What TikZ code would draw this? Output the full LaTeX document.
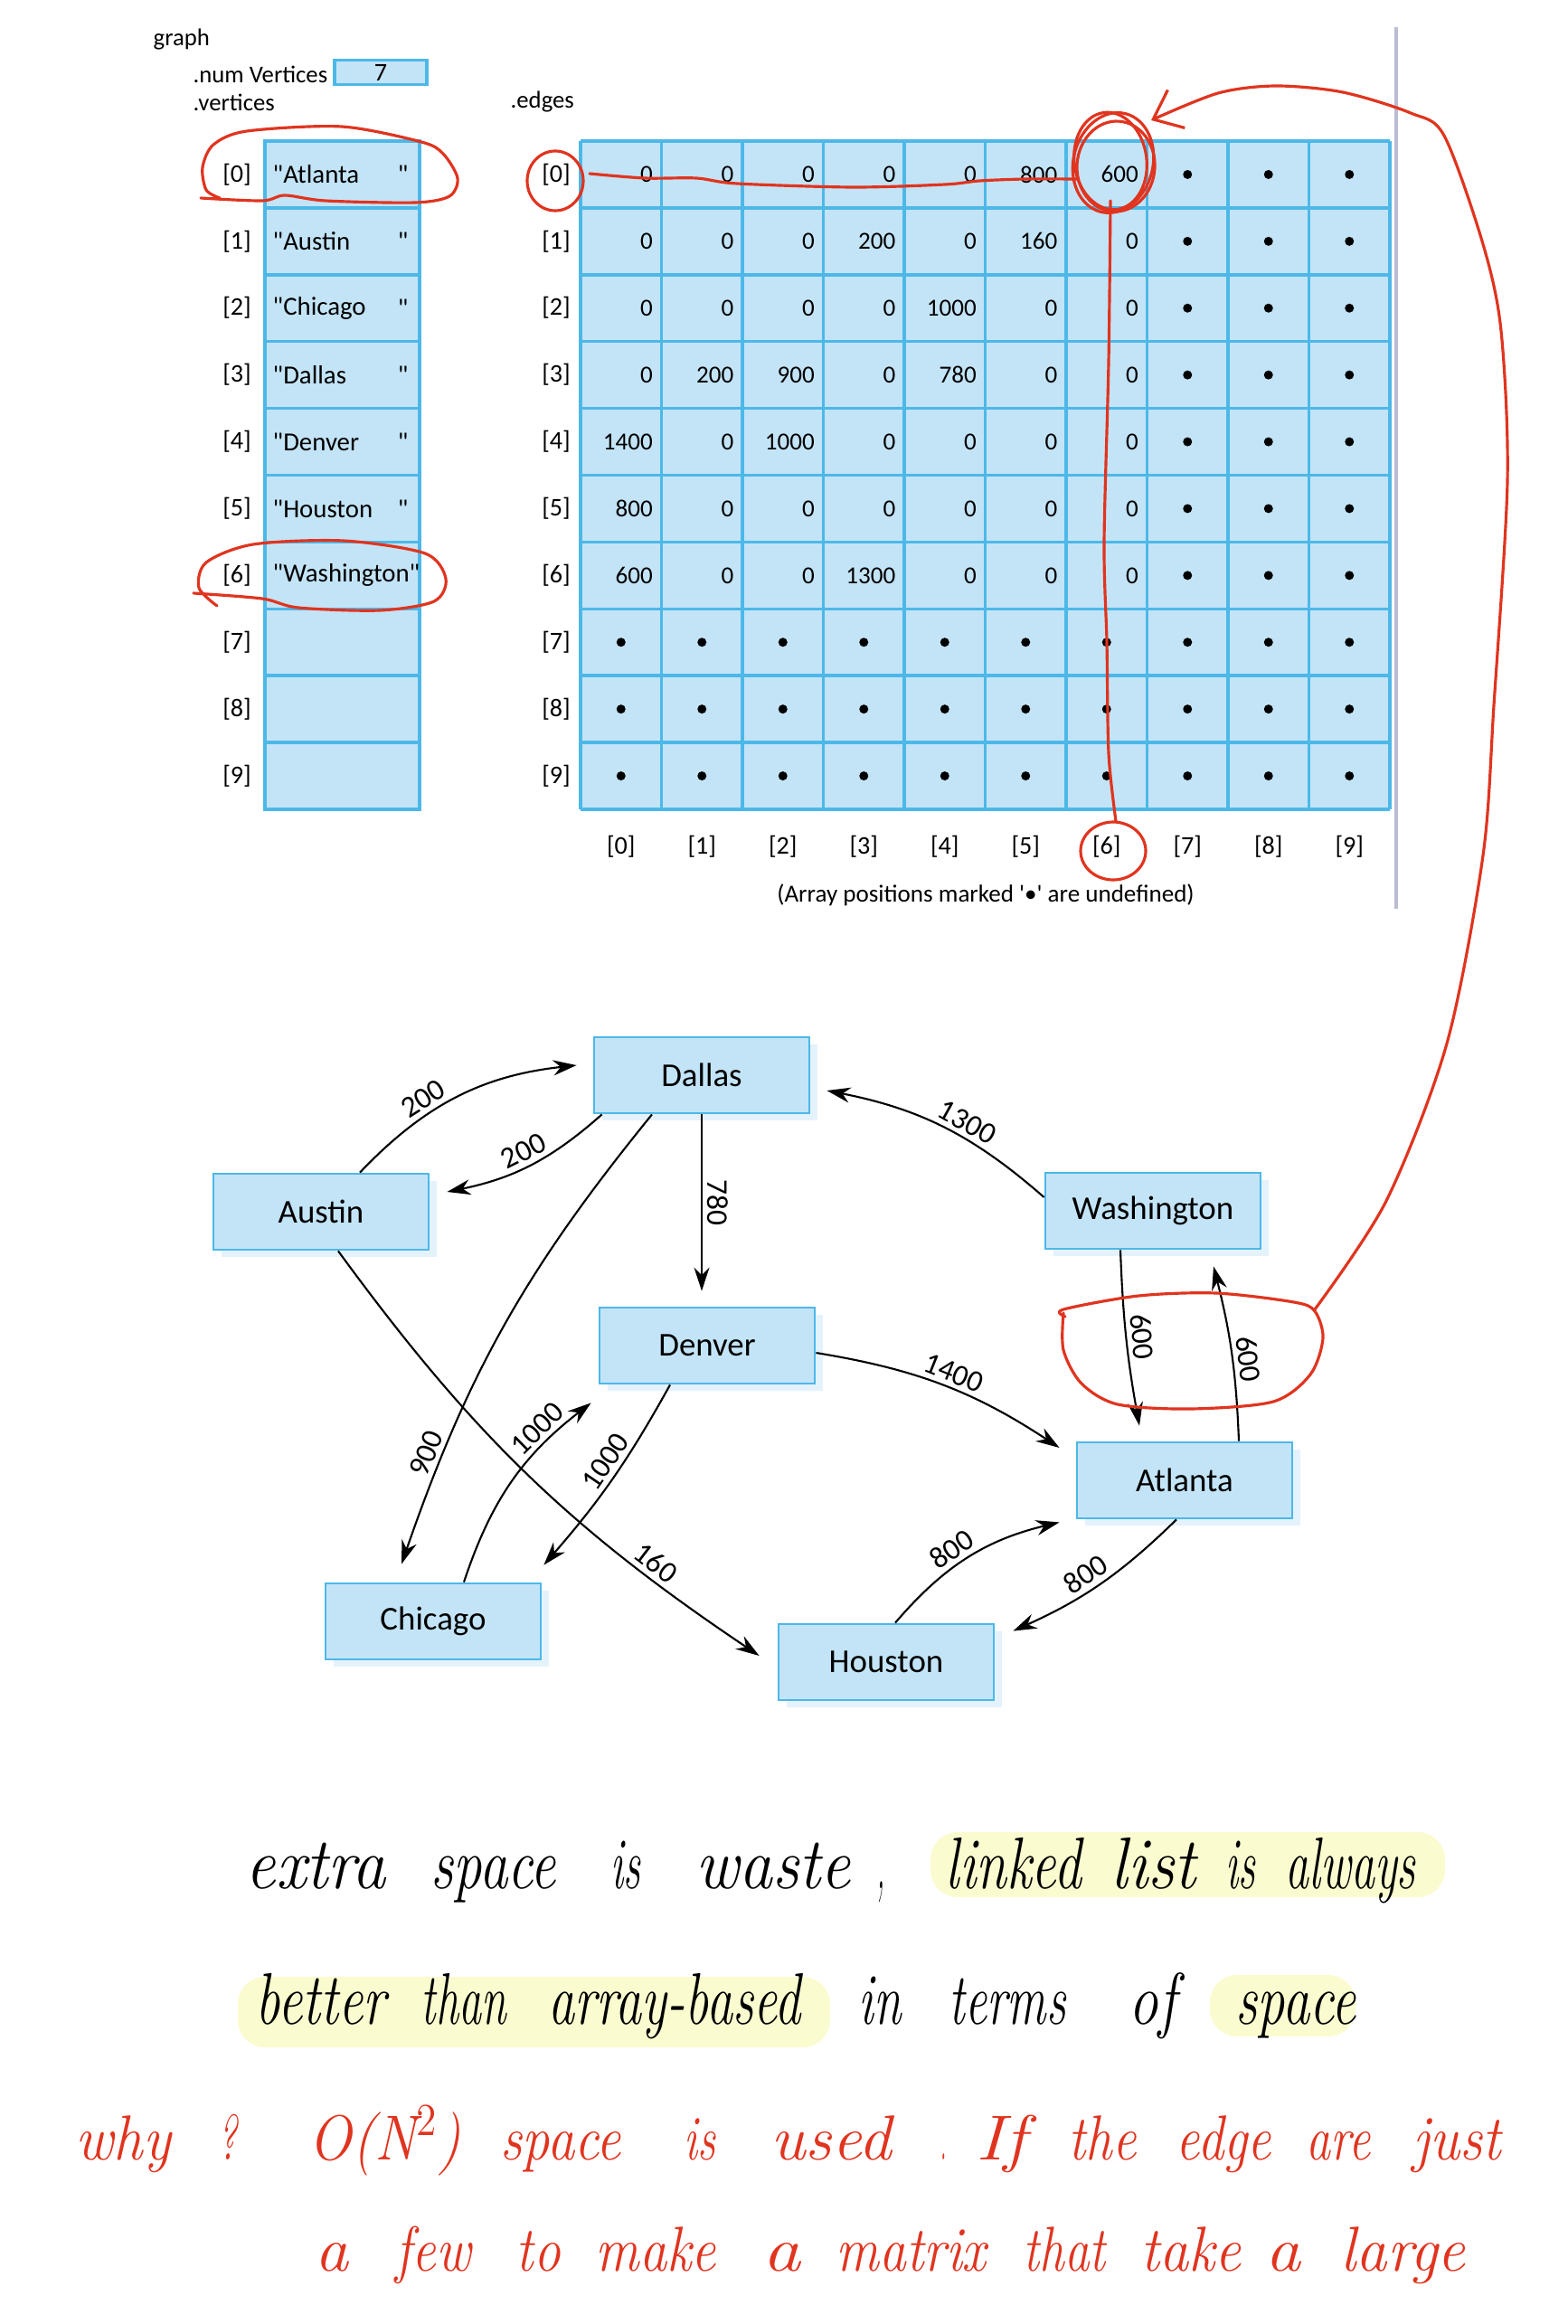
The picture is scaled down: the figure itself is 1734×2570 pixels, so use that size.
\documentclass[tikz,border=0pt]{standalone}
\usepackage{fontspec}
\newfontfamily\figfont{Carlito}
\usepackage{graphicx}
\usepackage{tikz}
\usetikzlibrary{arrows.meta,positioning,calc,shadows}
\definecolor{cellBlue}{HTML}{C3E4F7}
\definecolor{lineBlue}{HTML}{4DB8E8}
\definecolor{shadeBlue}{HTML}{E4F2FB}
\definecolor{penRed}{HTML}{E0341F}
\definecolor{markYellow}{HTML}{FBFBD0}
\definecolor{rulerGray}{HTML}{BCBCD4}

\begin{document}
\begin{tikzpicture}[x=0.1mm, y=-0.1mm,
  city/.style={draw=lineBlue, fill=cellBlue, line width=0.8pt,
               minimum width=23.8mm, minimum height=8.4mm,
               font=\figfont\fontsize{10.5}{12}\selectfont,
               drop shadow={fill=shadeBlue, opacity=1,
                            shadow xshift=0.9mm, shadow yshift=-0.8mm}},
  road/.style={-{Stealth[length=2.6mm, width=1.7mm]}, line width=0.6pt},
  roadback/.style={{Stealth[length=2.6mm, width=1.7mm]}-, line width=0.6pt},
  wt/.style={font=\figfont\fontsize{9.5}{11}\selectfont, sloped, above,
             inner sep=1.5pt},
  cellline/.style={lineBlue, line width=1pt},
  num/.style={font=\figfont\fontsize{7.7}{9}\selectfont, inner sep=0pt},
  idx/.style={font=\figfont\fontsize{8}{9}\selectfont, inner sep=0pt},
  vtx/.style={font=\figfont\fontsize{8.2}{10}\selectfont, inner sep=0pt},
  head/.style={font=\figfont\fontsize{7.6}{9}\selectfont, inner sep=0pt, anchor=west},
  redpen/.style={penRed, line width=0.9pt, line cap=round, line join=round},
  handtext/.style={inner sep=0pt, anchor=base west},
  hilite/.style={markYellow, rounded corners=3mm}
]
\fill[white] (0,0) rectangle (1734,2570);
\useasboundingbox (0,0) rectangle (1734,2570);

\node[head] (graph) at (169,44)  {graph};
\node[head] (numv)  at (213,82)  {.num Vertices};
\node[head] (verts) at (213,113) {.vertices};
\node[head] (edges) at (564,113) {.edges};
\node[draw=lineBlue, fill=cellBlue, line width=1pt, minimum width=10.2mm,
      minimum height=2.7mm, inner sep=0pt, font=\figfont\fontsize{8}{9}\selectfont]
      (count) at (421,80) {7};

\draw[rulerGray, line width=1.2pt] (1544,30) -- (1544,1005);

\fill[cellBlue] (293,156) rectangle (464,895);
\draw[cellline] (293,156) rectangle (464,895);
\foreach \r in {1,...,9}
  \draw[cellline] (293,{156+73.9*\r}) -- (464,{156+73.9*\r});
\foreach \r in {0,...,9}
  \node[idx] (vi\r) at (262,{156+73.9*(\r+0.5)}) {[\r]};
\foreach \r/\s in {0/Atlanta,1/Austin,2/Chicago,3/Dallas,4/Denver,5/Houston}{
  \node[vtx, anchor=west] (v\r) at (301,{156+73.9*(\r+0.5)}) {"\s};
  \node[vtx, anchor=east] (q\r) at (452,{156+73.9*(\r+0.5)}) {"};
}
\node[vtx, anchor=west] (v6) at (301,{156+73.9*6.5}) {"Washington"};

\fill[cellBlue] (642,156) rectangle (1537,895);
\foreach \c in {0,...,10}
  \draw[cellline] ({642+89.5*\c},156) -- ({642+89.5*\c},895);
\foreach \r in {0,...,10}
  \draw[cellline] (642,{156+73.9*\r}) -- (1537,{156+73.9*\r});
\foreach \r in {0,...,9}{
  \node[idx] (ri\r) at (615,{156+73.9*(\r+0.5)}) {[\r]};
  \node[idx] (ci\r) at ({642+89.5*(\r+0.5)},936) {[\r]};
}
\foreach \r/\row in {0/{0,0,0,0,0,800,600},1/{0,0,0,200,0,160,0},
                     2/{0,0,0,0,1000,0,0},3/{0,200,900,0,780,0,0},
                     4/{1400,0,1000,0,0,0,0},5/{800,0,0,0,0,0,0},
                     6/{600,0,0,1300,0,0,0}}
  \foreach \v [count=\c from 0] in \row
    \node[num, anchor=east] (e\r\c) at ({642+89.5*(\c+1)-9},{156+73.9*(\r+0.5)}) {\v};
\foreach \r in {0,...,6}
  \foreach \c in {7,8,9}
    \fill ({642+89.5*(\c+0.5)},{156+73.9*(\r+0.5)}) circle (0.5mm);
\foreach \r in {7,8,9}
  \foreach \c in {0,...,9}
    \fill ({642+89.5*(\c+0.5)},{156+73.9*(\r+0.5)}) circle (0.5mm);
\node[idx, font=\figfont\fontsize{7.7}{9}\selectfont] (note) at (1090,990)
  {(Array positions marked \textquotesingle•\textquotesingle\ are undefined)};

\node[city] (dal) at (776,1189)  {Dallas};
\node[city] (aus) at (355,1340)  {Austin};
\node[city] (was) at (1275,1339) {Washington};
\node[city] (den) at (782,1488)  {Denver};
\node[city] (atl) at (1310,1637) {Atlanta};
\node[city] (chi) at (479,1793)  {Chicago};
\node[city] (hou) at (980,1838)  {Houston};

\draw[road] ($(aus.north)+(43,0)$) to[bend left=20]
  node[wt, pos=.37] (w1) {200} ($(dal.west)+(-18,-11)$);
\draw[road] ($(dal.south west)+(10,0)$) to[bend left=15]
  node[wt, pos=.5] (w2) {200} ($(aus.east)+(19,-22)$);
\draw[road] ($(dal.south)+(-55,0)$) to[bend right=10]
  node[wt, pos=.8] (w3) {900} ($(chi.north)+(-35,-20)$);
\draw[road] (dal.south) -- node[wt, pos=.5] (w4) {780} ($(den.north)+(-6,-17)$);
\draw[road] ($(was.west)+(0,-15)$) to[bend right=15]
  node[wt, pos=.42] (w5) {1300} ($(dal.east)+(18,17)$);
\draw[road] ($(aus.south)+(19,0)$) to[bend right=10]
  node[wt, pos=.78] (w6) {160} ($(hou.west)+(-20,-7)$);
\draw[road] ($(chi.north)+(34,0)$) to[bend left=17]
  node[wt, pos=.76] (w7) {1000} ($(den.south west)+(-8,20)$);
\draw[road] ($(den.south)+(-41,0)$) to[bend left=6]
  node[wt, pos=.45] (w8) {1000} ($(chi.north east)+(2,-19)$);
\draw[road] ($(den.east)+(0,8)$) to[bend left=12]
  node[wt, pos=.52] (w9) {1400} ($(atl.west)+(-18,-36)$);
\draw[road] ($(was.south)+(-36,0)$) to[bend right=4]
  node[wt, pos=.5] (w10) {600} ($(atl.north)+(-50,-17)$);
\draw[roadback] ($(was.south)+(67,18)$) to[bend left=6]
  node[wt, pos=.55] (w11) {600} ($(atl.north)+(60,0)$);
\draw[road] ($(hou.north)+(10,0)$) to[bend left=18]
  node[wt, pos=.45] (w12) {800} ($(atl.south west)+(-18,3)$);
\draw[road] ($(atl.south)+(-9,0)$) to[bend left=10]
  node[wt, pos=.54] (w13) {800} ($(hou.north east)+(20,9)$);

\draw[redpen] plot[smooth] coordinates {(222,219) (290,222) (315,216) (360,222)
  (459,224) (497,217) (506,197) (490,170) (466,157) (378,140) (273,145)
  (236,160) (224,185) (228,210) (243,219)};
\draw[redpen] plot[smooth] coordinates {(214,656) (290,662) (330,672) (420,675)
  (480,665) (493,640) (470,612) (380,598) (280,602) (228,622) (220,650) (240,670)};
\draw[redpen] (614,200) ellipse [x radius=3.1mm, y radius=3.3mm];
\draw[redpen] plot[smooth] coordinates {(652,192) (713,197) (770,197) (815,203)
  (943,207) (1045,204) (1083,200) (1134,198) (1191,198)};
\draw[redpen, rotate around={-14:(1231,180)}] (1231,180) ellipse [x radius=4.4mm, y radius=5.6mm];
\draw[redpen, rotate around={8:(1228,178)}] (1228,178) ellipse [x radius=4.0mm, y radius=5.4mm];
\draw[redpen, rotate around={-4:(1234,184)}] (1234,184) ellipse [x radius=4.3mm, y radius=5.0mm];
\draw[redpen] plot[smooth] coordinates {(1228,222) (1226,400) (1221,600)
  (1224,710) (1226,833) (1234,908)};
\draw[redpen] (1231,941) ellipse [x radius=3.6mm, y radius=3.2mm];
\draw[redpen] plot[smooth] coordinates {(1178,1456) (1176,1448) (1259,1433)
  (1345,1430) (1431,1440) (1454,1450) (1463,1480) (1449,1520) (1408,1550)
  (1317,1558) (1236,1553) (1196,1530) (1176,1493) (1176,1452)};
\draw[redpen, -{Straight Barb[length=2.8mm, width=4.6mm]}] plot[smooth] coordinates {
  (1454,1448) (1533,1328) (1600,1154) (1640,946) (1652,780) (1667,532)
  (1660,366) (1640,270) (1597,150) (1560,125) (1485,102) (1411,95)
  (1347,103) (1273,133)};

\fill[hilite] (1029,2026) rectangle (1598,2098);
\fill[hilite] (263,2186) rectangle (918,2264);
\fill[hilite] (1338,2184) rectangle (1499,2252);
\foreach \w/\a/\b [count=\k] in {extra/271/426, space/476/614, is/675/708,
    waste/769/940, {,}/970/978, linked/1045/1195, list/1228/1322, is/1355/1388,
    always/1421/1565}{
  \pgfmathsetmacro\wordw{(\b-\a)/10}
  \node[handtext] (ha\k) at (\a,2088)
    {\resizebox{\wordw mm}{\height}{\fontsize{23}{23}\selectfont\itshape \w}};
}
\foreach \w/\a/\b [count=\k] in {better/282/426, than/465/559,
    array-based/606/885, in/949/996, terms/1049/1178, of/1248/1300,
    space/1366/1499}{
  \pgfmathsetmacro\wordw{(\b-\a)/10}
  \node[handtext] (hb\k) at (\a,2238)
    {\resizebox{\wordw mm}{\height}{\fontsize{23}{23}\selectfont\itshape \w}};
}
\foreach \w/\a/\b [count=\k] in {why/83/188, {?}/241/262, {O(N$^2$)}/341/509,
    space/553/686, is/756/791, used/852/985, {.}/1040/1046, If/1079/1134,
    the/1181/1256, edge/1300/1405, are/1444/1515, just/1562/1659}{
  \pgfmathsetmacro\wordw{(\b-\a)/10}
  \node[handtext, penRed] (hc\k) at (\a,2388)
    {\resizebox{\wordw mm}{\height}{\fontsize{20}{20}\selectfont\itshape \w}};
}
\foreach \w/\a/\b [count=\k] in {a/348/385, few/437/520, to/570/619,
    make/658/791, a/843/885, matrix/924/1090, that/1131/1222, take/1261/1372,
    a/1399/1438, large/1482/1620}{
  \pgfmathsetmacro\wordw{(\b-\a)/10}
  \node[handtext, penRed] (hd\k) at (\a,2511)
    {\resizebox{\wordw mm}{\height}{\fontsize{20}{20}\selectfont\itshape \w}};
}
\end{tikzpicture}
\end{document}
